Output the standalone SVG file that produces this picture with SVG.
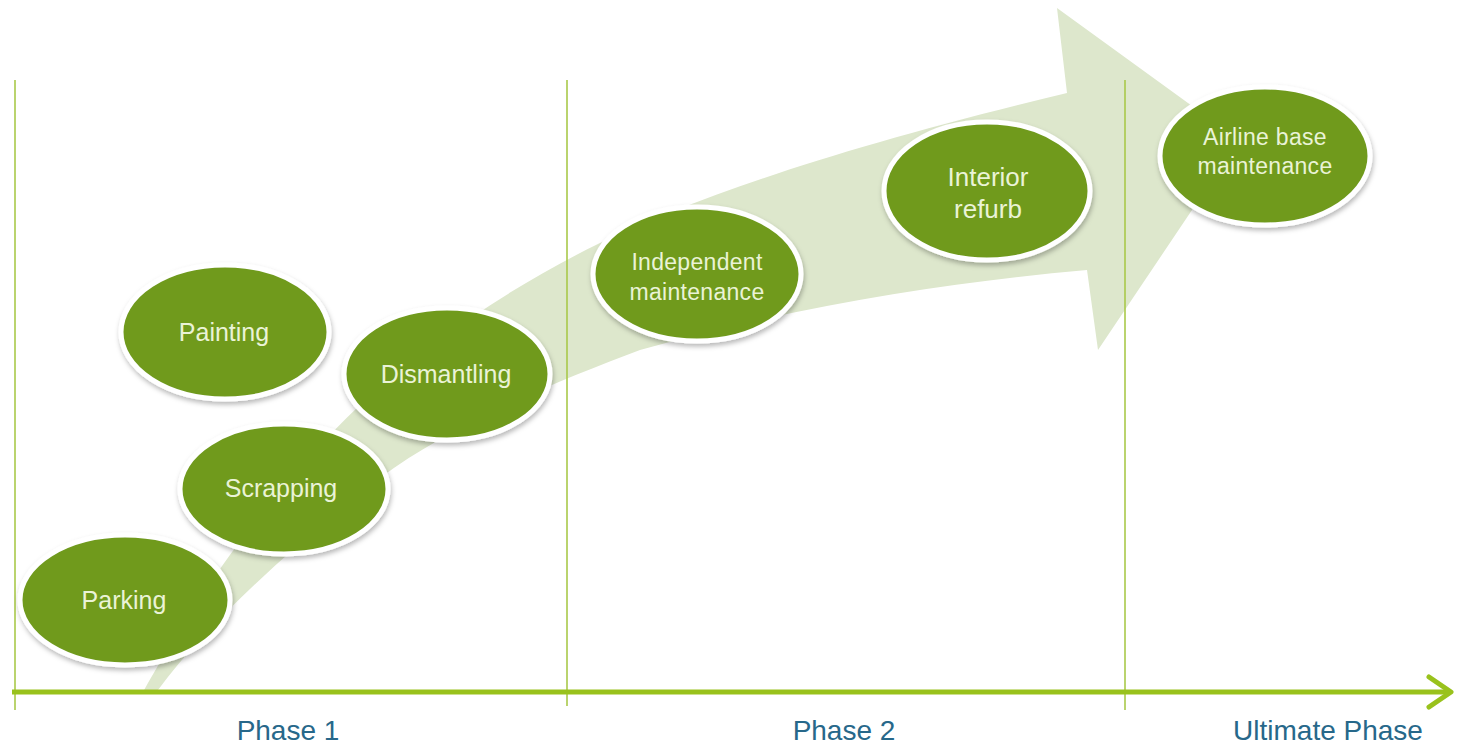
<svg xmlns="http://www.w3.org/2000/svg" width="1458" height="745" viewBox="0 0 1458 745">
<defs>
<style>
.node ellipse{fill:#6f9a1f;stroke:#ffffff;stroke-width:5;filter:url(#sh)}
.node text{font-family:"Liberation Sans",Arial,sans-serif;fill:#eaf3d6;text-anchor:middle;dominant-baseline:central}
.vline{stroke:#a9c94a;stroke-width:1.6}
.phase{font-family:"Liberation Sans",Arial,sans-serif;font-size:28px;fill:#27688a;text-anchor:middle}
</style>
<filter id="sh" x="-10%" y="-10%" width="125%" height="130%">
<feDropShadow dx="1" dy="3" stdDeviation="2.5" flood-color="#000" flood-opacity="0.28"/>
</filter>
</defs>
<rect width="1458" height="745" fill="#ffffff"/>
<g id="band">
<path d="M143,692 C190,608 260,500 360,405 C430,340 520,282 600,243 C700,195 850,145 1067,93 L1057,8 L1239,140 L1098,350 L1087,270 C950,282 800,305 640,350 C560,380 450,425 380,478 C300,540 210,620 158,690 Z" fill="#dde7cc"/>
</g>
<g id="grid">
<line class="vline" x1="15" y1="80" x2="15" y2="710"/>
<line class="vline" x1="567" y1="80" x2="567" y2="706"/>
<line class="vline" x1="1125" y1="80" x2="1125" y2="710"/>
</g>
<g id="connectors">
<line x1="12" y1="692" x2="1448" y2="692" stroke="#99c21c" stroke-width="5"/>
<polyline points="1429,677 1451,692 1429,707" fill="none" stroke="#99c21c" stroke-width="5" stroke-linecap="round" stroke-linejoin="round"/>
</g>
<g id="node-painting" class="node"><ellipse cx="225" cy="332" rx="104" ry="67"/><text x="224" y="332" font-size="25">Painting</text></g>
<g id="node-dismantling" class="node"><ellipse cx="447" cy="374" rx="103" ry="66"/><text x="446" y="374" font-size="25">Dismantling</text></g>
<g id="node-scrapping" class="node"><ellipse cx="284" cy="489" rx="104" ry="65"/><text x="281" y="488" font-size="25">Scrapping</text></g>
<g id="node-parking" class="node"><ellipse cx="125" cy="600" rx="105" ry="65"/><text x="124" y="600" font-size="25">Parking</text></g>
<g id="node-independent" class="node"><ellipse cx="697" cy="274" rx="104" ry="67"/><text x="697" y="262" font-size="23" letter-spacing="0.3">Independent</text><text x="697" y="292" font-size="23" letter-spacing="0.3">maintenance</text></g>
<g id="node-interior" class="node"><ellipse cx="987" cy="191" rx="103" ry="69"/><text x="988" y="177" font-size="26">Interior</text><text x="988" y="209" font-size="26">refurb</text></g>
<g id="node-airline" class="node"><ellipse cx="1265" cy="156" rx="105" ry="69"/><text x="1265" y="137" font-size="23" letter-spacing="0.3">Airline base</text><text x="1265" y="166" font-size="23" letter-spacing="0.3">maintenance</text></g>
<g id="labels">
<text class="phase" x="288" y="740">Phase 1</text>
<text class="phase" x="844" y="740">Phase 2</text>
<text class="phase" x="1328" y="740">Ultimate Phase</text>
</g>
</svg>
